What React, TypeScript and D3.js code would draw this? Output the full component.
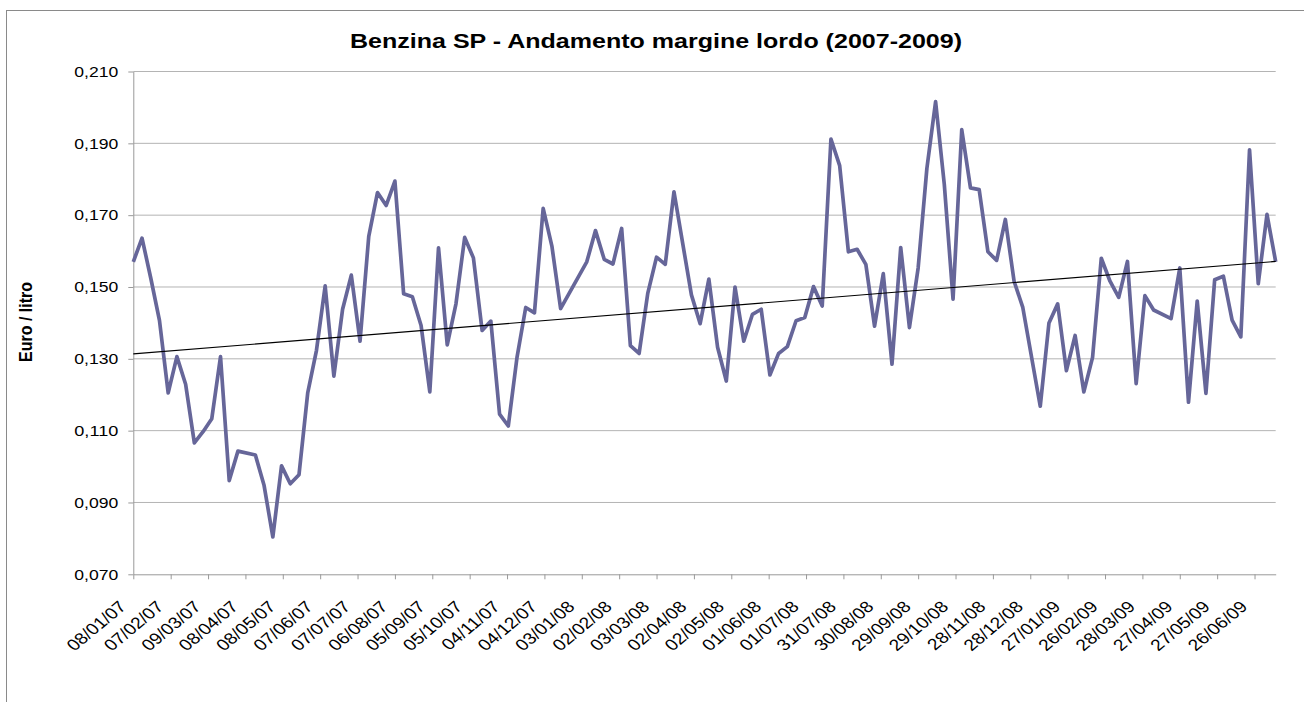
import React, { useEffect, useRef } from 'react';
import * as d3 from 'd3';

// weekly dates (holiday weeks are missing in the source data)
const dates = [
  '08/01/07', '15/01/07', '22/01/07', '29/01/07', '05/02/07', '12/02/07', '19/02/07', '26/02/07',
  '05/03/07', '12/03/07', '19/03/07', '26/03/07', '02/04/07', '16/04/07', '23/04/07', '30/04/07',
  '07/05/07', '14/05/07', '21/05/07', '28/05/07', '04/06/07', '11/06/07', '18/06/07', '25/06/07',
  '02/07/07', '09/07/07', '16/07/07', '23/07/07', '30/07/07', '06/08/07', '13/08/07', '20/08/07',
  '27/08/07', '03/09/07', '10/09/07', '17/09/07', '24/09/07', '01/10/07', '08/10/07', '15/10/07',
  '22/10/07', '29/10/07', '05/11/07', '12/11/07', '19/11/07', '26/11/07', '03/12/07', '10/12/07',
  '17/12/07', '07/01/08', '14/01/08', '21/01/08', '28/01/08', '04/02/08', '11/02/08', '18/02/08',
  '25/02/08', '03/03/08', '10/03/08', '17/03/08', '31/03/08', '07/04/08', '14/04/08', '21/04/08',
  '28/04/08', '05/05/08', '12/05/08', '19/05/08', '26/05/08', '02/06/08', '09/06/08', '16/06/08',
  '23/06/08', '30/06/08', '07/07/08', '14/07/08', '21/07/08', '28/07/08', '04/08/08', '11/08/08',
  '18/08/08', '25/08/08', '01/09/08', '08/09/08', '15/09/08', '22/09/08', '29/09/08', '06/10/08',
  '13/10/08', '20/10/08', '27/10/08', '03/11/08', '10/11/08', '17/11/08', '24/11/08', '01/12/08',
  '08/12/08', '15/12/08', '22/12/08', '05/01/09', '12/01/09', '19/01/09', '26/01/09', '02/02/09',
  '09/02/09', '16/02/09', '23/02/09', '02/03/09', '09/03/09', '16/03/09', '23/03/09', '30/03/09',
  '06/04/09', '20/04/09', '27/04/09', '04/05/09', '11/05/09', '18/05/09', '25/05/09', '01/06/09',
  '08/06/09', '15/06/09', '22/06/09', '29/06/09', '06/07/09', '13/07/09',
];

// margine lordo, euro / litro
const values = [
  0.157, 0.1636, 0.1525, 0.1407, 0.1205, 0.1306, 0.1229, 0.1066,
  0.1097, 0.1133, 0.1306, 0.0961, 0.1043, 0.1032, 0.0947, 0.0804,
  0.1002, 0.0952, 0.0977, 0.1205, 0.1323, 0.1503, 0.1252, 0.1438,
  0.1533, 0.1349, 0.1641, 0.1763, 0.1727, 0.1795, 0.1481, 0.1473,
  0.1393, 0.1208, 0.1609, 0.1339, 0.1453, 0.1638, 0.1581, 0.1379,
  0.1405, 0.1146, 0.1113, 0.1304, 0.1443, 0.1428, 0.1719, 0.1614,
  0.144, 0.157, 0.1657, 0.1577, 0.1564, 0.1663, 0.1337, 0.1315,
  0.1483, 0.1583, 0.1563, 0.1765, 0.1478, 0.1398, 0.1522, 0.1332,
  0.1238, 0.15, 0.1349, 0.1424, 0.1438, 0.1255, 0.1315, 0.1334,
  0.1406, 0.1415, 0.1501, 0.1447, 0.1912, 0.1838, 0.1598, 0.1605,
  0.1563, 0.1391, 0.1537, 0.1285, 0.161, 0.1387, 0.1553, 0.183,
  0.2016, 0.1785, 0.1466, 0.1938, 0.1776, 0.1771, 0.1598, 0.1574,
  0.1688, 0.1516, 0.1443, 0.1168, 0.14, 0.1453, 0.1267, 0.1365,
  0.1208, 0.1304, 0.158, 0.1516, 0.1471, 0.1571, 0.1231, 0.1476,
  0.1436, 0.1412, 0.1553, 0.1179, 0.1461, 0.1204, 0.152, 0.153,
  0.1408, 0.1361, 0.1882, 0.1509, 0.1702, 0.157,
];

const tickLabels = [
  '08/01/07', '07/02/07', '09/03/07', '08/04/07', '08/05/07', '07/06/07', '07/07/07', '06/08/07',
  '05/09/07', '05/10/07', '04/11/07', '04/12/07', '03/01/08', '02/02/08', '03/03/08', '02/04/08',
  '02/05/08', '01/06/08', '01/07/08', '31/07/08', '30/08/08', '29/09/08', '29/10/08', '28/11/08',
  '28/12/08', '27/01/09', '26/02/09', '28/03/09', '27/04/09', '27/05/09', '26/06/09',
];

const yTicks = [0.07, 0.09, 0.11, 0.13, 0.15, 0.17, 0.19, 0.21];

const FONT = '"Liberation Sans", Arial, sans-serif';
// the source picture is a bit wider than tall, text included
const SX = 1.2;

const App = () => {
  const svgRef = useRef<SVGSVGElement>(null);

  useEffect(() => {
    const svg = d3.select(svgRef.current);
    svg.selectAll('*').remove();

    const left = 133.3, right = 1275.7, top = 71.5, bottom = 574.3;
    const parse = d3.utcParse('%d/%m/%y');
    const data = dates.map((d, i) => ({ date: parse(d) as Date, value: values[i] }));

    const x = d3.scaleUtc()
      .domain(d3.extent(data, d => d.date) as [Date, Date])
      .range([left, right]);
    const y = d3.scaleLinear().domain([0.07, 0.21]).range([bottom, top]);

    // chart area border (runs past the window on right and bottom)
    svg.append('rect')
      .attr('x', 6.5).attr('y', 10.5)
      .attr('width', 1400).attr('height', 800)
      .attr('fill', 'none').attr('stroke', '#8a8a8a');

    // title
    svg.append('text')
      .attr('x', 656).attr('y', 48)
      .attr('text-anchor', 'middle')
      .attr('font-family', FONT).attr('font-weight', 'bold').attr('font-size', 20.5)
      .attr('textLength', 612).attr('lengthAdjust', 'spacingAndGlyphs')
      .text('Benzina SP - Andamento margine lordo (2007-2009)');

    // y title
    svg.append('text')
      .attr('transform', `translate(32,322) scale(${SX},1) rotate(-90)`)
      .attr('text-anchor', 'middle')
      .attr('font-family', FONT).attr('font-weight', 'bold').attr('font-size', 16)
      .text('Euro / litro');

    // gridlines
    svg.append('g')
      .selectAll('line')
      .data(yTicks.filter(t => t > 0.07))
      .enter()
      .append('line')
      .attr('x1', left).attr('x2', right)
      .attr('y1', d => y(d)).attr('y2', d => y(d))
      .attr('stroke', '#b4b4b4').attr('stroke-width', 1);

    // y axis
    const yAxis = svg.append('g')
      .attr('transform', `translate(${left},0)`)
      .call(d3.axisLeft(y)
        .tickValues(yTicks)
        .tickSize(5)
        .tickSizeOuter(0)
        .tickPadding(10)
        .tickFormat(d => d3.format('.3f')(d as number).replace('.', ',')));
    yAxis.select('.domain').attr('stroke', '#999');
    yAxis.selectAll('line').attr('stroke', '#999');
    yAxis.selectAll('text')
      .attr('font-family', FONT).attr('font-size', 15).attr('fill', '#000')
      .attr('textLength', 44).attr('lengthAdjust', 'spacingAndGlyphs');

    // x axis
    const tickDates = tickLabels.map(t => parse(t) as Date);
    const xAxis = svg.append('g')
      .attr('transform', `translate(0,${bottom})`)
      .call(d3.axisBottom(x)
        .tickValues(tickDates)
        .tickSize(5)
        .tickSizeOuter(0)
        .tickFormat((d, i) => tickLabels[i]));
    xAxis.select('.domain').attr('stroke', '#999');
    xAxis.selectAll('line').attr('stroke', '#999');
    xAxis.selectAll('text')
      .attr('x', 0).attr('y', 0).attr('dy', 0)
      .attr('text-anchor', 'end')
      .attr('transform', `translate(-6.5,33.5) scale(${SX},1) rotate(-45)`)
      .attr('font-family', FONT).attr('font-size', 16).attr('fill', '#000');

    // series
    const line = d3.line<{ date: Date; value: number }>()
      .x(d => x(d.date))
      .y(d => y(d.value));

    svg.append('path')
      .datum(data)
      .attr('d', line)
      .attr('fill', 'none')
      .attr('stroke', '#666699')
      .attr('stroke-width', 3.7)
      .attr('stroke-linejoin', 'round');

    // linear trend (least squares over the dates)
    const xs = data.map(d => d.date.getTime());
    const mx = d3.mean(xs) as number;
    const my = d3.mean(values) as number;
    const slope = d3.sum(xs, (v, i) => (v - mx) * (values[i] - my)) / d3.sum(xs, v => (v - mx) ** 2);
    const [d0, d1] = x.domain();
    const trend = [d0, d1].map(d => ({ date: d, value: my + slope * (d.getTime() - mx) }));

    svg.append('path')
      .datum(trend)
      .attr('d', line)
      .attr('fill', 'none')
      .attr('stroke', '#000')
      .attr('stroke-width', 1.1);
  }, []);

  return (
    <svg
      ref={svgRef}
      width={1304}
      height={702}
      style={{ position: 'absolute', left: 0, top: 0, background: '#fff' }}
    />
  );
};

export default App;
